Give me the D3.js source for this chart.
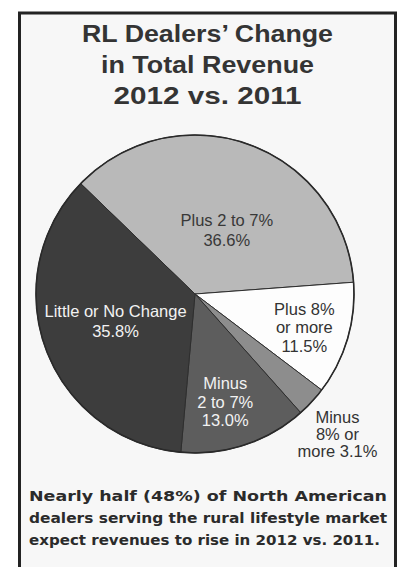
<!DOCTYPE html>
<html>
<head>
<meta charset="utf-8">
<script src="https://cdn.jsdelivr.net/npm/d3@7"></script>
<style>
  html, body { margin: 0; padding: 0; background: #ffffff; }
  svg { display: block; }
</style>
</head>
<body>
<svg id="chart" width="398" height="567"></svg>
<script>
// Survey result: expected change in total revenue, 2012 vs. 2011
const categories = ["Plus 2 to 7%", "Plus 8% or more", "Minus 8% or more", "Minus 2 to 7%", "Little or No Change"];
const shares = [36.6, 11.5, 3.1, 13.0, 35.8];
const labelLines = [
  ["Plus 2 to 7%", "36.6%"],
  ["Plus 8%", "or more", "11.5%"],
  ["Minus", "8% or", "more 3.1%"],
  ["Minus", "2 to 7%", "13.0%"],
  ["Little or No Change", "35.8%"]
];
const titleLines = ["RL Dealers\u2019 Change", "in Total Revenue", "2012 vs. 2011"];
const noteLines = [
  "Nearly half (48%) of North American",
  "dealers serving the rural lifestyle market",
  "expect revenues to rise in 2012 vs. 2011."
];

// Styling and layout
const sliceFill = ["#b9b9b9", "#fdfdfd", "#8d8d8d", "#5d5d5d", "#3d3d3d"];
const labelFill = ["#383838", "#333333", "#333333", "#f2f2f2", "#f2f2f2"];
// label anchor: angular offset from slice middle (deg), distance as fraction of radius
const labelPlace = [[5.3, 0.47], [-5.6, 0.70], [-0.5, 1.21], [0.7, 0.63], [4.4, 0.52]];
const labelGap = [20, 18.5, 17, 18.5, 20];

const svg = d3.select("#chart");

// framed panel
svg.append("rect")
  .attr("x", 19.5).attr("y", 13)
  .attr("width", 376).attr("height", 620)
  .attr("fill", "#f7f7f7")
  .attr("stroke", "#232323")
  .attr("stroke-width", 3);

const panelCx = 207.5;

// title
const title = svg.append("g")
  .attr("font-family", "'Liberation Sans', Arial, sans-serif")
  .attr("font-weight", "bold")
  .attr("font-size", 24)
  .attr("fill", "#343434")
  .attr("text-anchor", "middle");
const titleWidths = [251, 213, 188];
titleLines.forEach((t, i) => {
  title.append("text")
    .attr("x", panelCx)
    .attr("y", 42 + i * 30.8)
    .attr("textLength", titleWidths[i])
    .attr("lengthAdjust", "spacingAndGlyphs")
    .text(t);
});

// pie
const cx = 195, cy = 294, R = 159;
const startDeg = -46;
const pie = d3.pie().sort(null).value(d => d)
  .startAngle(startDeg * Math.PI / 180)
  .endAngle((startDeg + 360) * Math.PI / 180);
const arcs = pie(shares);
const arc = d3.arc().innerRadius(0).outerRadius(R);

const g = svg.append("g").attr("transform", `translate(${cx},${cy})`);
g.selectAll("path.slice")
  .data(arcs)
  .join("path")
  .attr("class", "slice")
  .attr("d", arc)
  .attr("fill", (d, i) => sliceFill[i])
  .attr("stroke", "#2e2e2e")
  .attr("stroke-width", 1)
  .attr("stroke-linejoin", "round");

// outer rim
g.append("circle")
  .attr("r", R)
  .attr("fill", "none")
  .attr("stroke", "#2a2a2a")
  .attr("stroke-width", 1.6);

// slice labels
const labels = g.selectAll("g.label")
  .data(arcs)
  .join("g")
  .attr("class", "label")
  .attr("transform", (d, i) => {
    const mid = (d.startAngle + d.endAngle) / 2 + labelPlace[i][0] * Math.PI / 180;
    const rr = labelPlace[i][1] * R;
    return `translate(${rr * Math.sin(mid)},${-rr * Math.cos(mid)})`;
  });
labels.each(function (d, i) {
  const lines = labelLines[i];
  const t = d3.select(this).append("text")
    .attr("font-family", "'Liberation Sans', Arial, sans-serif")
    .attr("font-size", 16.5)
    .attr("fill", labelFill[i])
    .attr("text-anchor", "middle");
  lines.forEach((ln, k) => {
    t.append("tspan")
      .attr("x", 0)
      .attr("y", k * labelGap[i])
      .text(ln);
  });
});

// footnote, justified lines
const note = svg.append("g")
  .attr("font-family", "'DejaVu Sans', sans-serif")
  .attr("font-weight", "bold")
  .attr("font-size", 14.5)
  .attr("fill", "#2b2b2b");
const noteWidths = [358, 358, 351];
noteLines.forEach((t, i) => {
  note.append("text")
    .attr("x", 29)
    .attr("y", 501 + i * 22)
    .attr("textLength", noteWidths[i])
    .attr("lengthAdjust", "spacingAndGlyphs")
    .text(t);
});
</script>
</body>
</html>
